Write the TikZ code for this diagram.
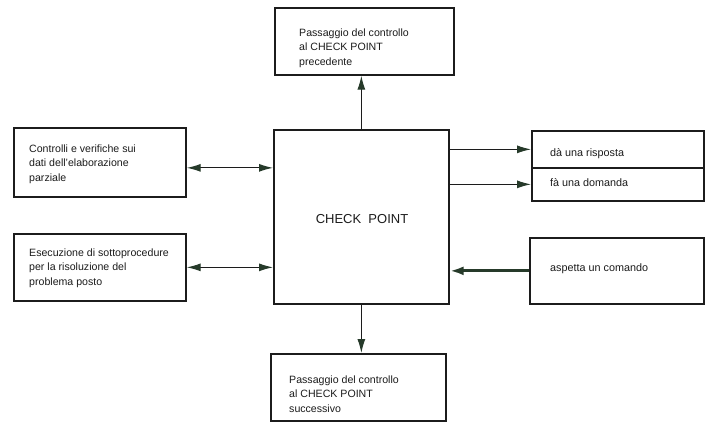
\documentclass[tikz,border=0pt]{standalone}
\usepackage{fontspec}
\setmainfont{Liberation Sans}
\usetikzlibrary{arrows.meta}
\definecolor{ink}{RGB}{28,28,28}
\definecolor{tipink}{RGB}{38,58,42}
\begin{document}
\begin{tikzpicture}[x=1pt,y=-1pt,
  box/.style={draw=ink,line width=1.7pt,anchor=north west,inner sep=0pt},
  txt/.style={anchor=north west,inner sep=0pt,align=left,text=ink,
    font=\fontsize{10.6}{14.5}\selectfont},
  line/.style={anchor=base west,inner sep=0pt,text=ink,font=\fontsize{10.8}{14.5}\selectfont},
  conn/.style={draw=ink,line width=1.1pt,-{Latex[length=14pt,width=8pt,color=tipink]}},
  biconn/.style={draw=ink,line width=1.1pt,{Latex[length=14pt,width=8pt,color=tipink]}-{Latex[length=14pt,width=8pt,color=tipink]}},
  heavy/.style={draw=tipink,line width=3pt,-{Latex[length=14pt,width=9pt,color=tipink]}}]
  \useasboundingbox[fill=white] (0,0) rectangle (712,423);

  % boxes
  \node[box,minimum width=175pt,minimum height=174pt] (cp) at (273,129) {};
  \node[box,minimum width=179pt,minimum height=67pt] (top) at (274,7) {};
  \node[box,minimum width=175pt,minimum height=67pt] (bot) at (270,353) {};
  \node[box,minimum width=172pt,minimum height=69pt] (lb1) at (13,127) {};
  \node[box,minimum width=172pt,minimum height=67pt] (lb2) at (13,233) {};
  \node[box,minimum width=172pt,minimum height=37pt] (r1) at (531,130) {};
  \node[box,minimum width=172pt,minimum height=33pt] (r2) at (531,167) {};
  \node[box,minimum width=174pt,minimum height=66pt] (asp) at (529,237) {};

  % texts
  \node[anchor=base,inner sep=0pt,text=ink,font=\fontsize{13}{16}\selectfont] (cpt) at (362,223) {CHECK\ \ POINT};
  \node[txt] (topt) at (299,28.5) {Passaggio del controllo\\al CHECK POINT\\precedente};
  \node[txt] (bott) at (289,375.5) {Passaggio del controllo\\al CHECK POINT\\successivo};
  \node[txt] (lb1t) at (29,144.5) {Controlli e verifiche sui\\dati dell'elaborazione\\parziale};
  \node[txt] (lb2t) at (29,248.5) {Esecuzione di sottoprocedure\\per la risoluzione del\\problema posto};
  \node[line] (r1t) at (550,156.5) {dà una risposta};
  \node[line] (r2t) at (550,186.5) {fà una domanda};
  \node[line] (aspt) at (550,271.5) {aspetta un comando};

  % connectors
  \draw[conn] (cp.north) -- (cp.north |- top.south);
  \draw[conn] (cp.south) -- (cp.south |- bot.north);
  \draw[biconn] ([yshift=-5.5pt]lb1.east) -- ([yshift=-5.5pt]lb1.east -| cp.west);
  \draw[biconn] (lb2.east) -- (lb2.east -| cp.west);
  \draw[conn] (cp.east |- r1.west) -- (r1.west);
  \draw[conn] (cp.east |- r2.west) -- (r2.west);
  \draw[heavy] (asp.west) -- (asp.west -| cp.east);
\end{tikzpicture}
\end{document}
